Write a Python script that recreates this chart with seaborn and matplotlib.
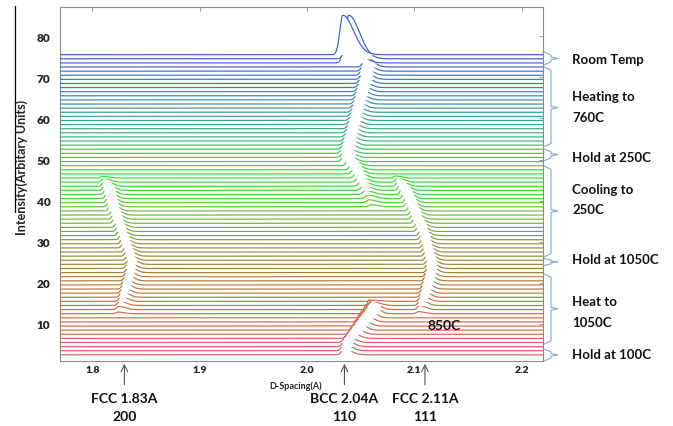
import numpy as np
import pandas as pd
import matplotlib
matplotlib.use("Agg")
import matplotlib.pyplot as plt
import matplotlib.transforms as mtrans
import seaborn as sns
from matplotlib.colors import LinearSegmentedColormap
from matplotlib.lines import Line2D

# ---------------- data ----------------
# one entry per diffraction trace, bottom (first) to top (last); 0 height = no peak
bcc_pos = ([2.035, 2.035, 2.036] +
           [2.037, 2.040, 2.043, 2.046, 2.049, 2.052, 2.055, 2.058, 2.060, 2.061, 2.062, 0, 0, 0, 0, 0, 0] +
           [0, 0, 0] +
           [0] * 13 + [2.060, 2.058, 2.057, 2.055, 2.053, 2.051, 2.049, 2.047, 2.045, 2.043] +
           [2.040] +
           [2.036, 2.036, 2.035, 2.036] +
           [2.037, 2.038, 2.039, 2.040, 2.041, 2.042, 2.043, 2.044, 2.045, 2.046,
            2.047, 2.048, 2.049, 2.050, 2.051, 2.052, 2.053, 2.053, 2.054, 2.055] +
           [2.037, 2.039, 2.0335])
bcc_h = ([1.5, 1.6, 1.7] +
         [1.8, 2.0, 2.3, 2.5, 2.8, 3.0, 3.2, 3.4, 2.2, 1.0, 0.3, 0, 0, 0, 0, 0, 0] +
         [0, 0, 0] +
         [0] * 13 + [0.5, 0.7, 0.9, 1.0, 1.2, 1.4, 1.5, 1.7, 1.9, 2.0] +
         [2.2] +
         [2.4, 2.5, 2.5, 2.4] +
         [2.2, 2.1, 2.0, 2.0, 1.9, 1.9, 1.9, 1.9, 1.9, 1.9,
          2.0, 2.0, 2.0, 2.1, 2.1, 2.2, 2.2, 2.3, 2.4, 2.5] +
         [7.0, 10.6, 9.6])
fcc200_pos = ([0] * 10 +
              [1.824, 1.825, 1.826, 1.827, 1.828, 1.829, 1.830, 1.831, 1.832, 1.833] +
              [1.834, 1.834, 1.835] +
              [1.834, 1.833, 1.832, 1.830, 1.829, 1.828, 1.826, 1.825, 1.824, 1.822, 1.821, 1.820,
               1.818, 1.817, 1.816, 1.815, 1.814, 1.813, 1.812, 1.811, 1.810, 1.809, 1.808] +
              [0] * 28)
fcc200_h = ([0] * 10 +
            [0.4, 0.8, 1.1, 1.3, 1.5, 1.6, 1.7, 1.7, 1.8, 1.8] +
            [1.8, 1.8, 1.8] +
            [1.7, 1.7, 1.7, 1.7, 1.8, 1.8, 1.8, 1.9, 1.9, 2.0, 2.0, 2.1,
             2.2, 2.3, 2.4, 2.5, 2.6, 2.7, 1.8, 1.0, 0.4, 0, 0] +
            [0] * 28)
fcc111_pos = ([0] * 10 +
              [2.104, 2.105, 2.106, 2.107, 2.108, 2.109, 2.110, 2.111, 2.112, 2.113] +
              [2.114, 2.114, 2.114] +
              [2.113, 2.112, 2.111, 2.110, 2.109, 2.108, 2.107, 2.105, 2.104, 2.102, 2.100, 2.099,
               2.097, 2.095, 2.094, 2.092, 2.090, 2.088, 2.086, 2.085, 2.083, 2.082, 2.080] +
              [0] * 28)
fcc111_h = ([0] * 10 +
            [0.5, 1.0, 1.4, 1.7, 1.9, 2.0, 2.1, 2.2, 2.2, 2.2] +
            [2.2, 2.2, 2.2] +
            [2.1, 2.0, 2.0, 2.0, 2.0, 2.1, 2.1, 2.2, 2.2, 2.3, 2.3, 2.4,
             2.4, 2.5, 2.6, 2.7, 2.8, 2.9, 2.0, 1.1, 0.5, 0, 0] +
            [0] * 28)

stage_labels = [["Room Temp"], ["Heating to", "760C"], ["Hold at 250C"], ["Cooling to", "250C"],
                ["Hold at 1050C"], ["Heat to", "1050C"], ["Hold at 100C"]]
stage_top = [76.2, 72.5, 52.6, 48.4, 26.0, 22.2, 3.9]
stage_bot = [73.0, 53.1, 49.7, 26.3, 24.2, 5.1, 1.0]
stage_tip = [74.6, 62.6, 51.2, 37.5, 25.1, 13.7, 2.5]
stage_text_y = [[74.4], [65.5, 60.4], [50.6], [42.8, 38.0], [25.8], [15.6, 10.5], [2.7]]

marker_x = [1.83, 2.035, 2.11]
marker_lines = [["FCC 1.83A", "200"], ["BCC 2.04A", "110"], ["FCC 2.11A", "111"]]
x_ticks = [1.8, 1.9, 2.0, 2.1, 2.2]
y_ticks = [10, 20, 30, 40, 50, 60, 70, 80]

# ---------------- figure ----------------
sns.set_theme(style="white")
plt.rcParams['font.family'] = ['Lato', 'DejaVu Sans']
W, H = 673, 427
fig = plt.figure(figsize=(W / 100, H / 100), dpi=100)
ax = fig.add_axes([60 / W, 1 - 362 / H, 483 / W, 354 / H])

def fx(px):
    return px / W

def fy(py):
    return 1 - py / H

n = len(bcc_pos)
offsets = 2.5 + np.arange(n)
d = np.linspace(1.77, 2.22, 1500)

cmap = LinearSegmentedColormap.from_list("ramp", [
    (0.00, "#e35866"), (0.12, "#d9684e"), (0.24, "#b27a3c"), (0.34, "#8f8c3a"),
    (0.47, "#62c040"), (0.60, "#2ee22e"), (0.70, "#3cbb6c"), (0.80, "#3a9a98"),
    (0.90, "#3d78c0"), (1.00, "#3a5cd2")])

def peak(x, p, h, sl, sr):
    if h <= 0:
        return np.zeros_like(x)
    s = np.where(x < p, sl, sr)
    return h * np.exp(-0.5 * ((x - p) / s) ** 2)

for i in range(n):
    wide = bcc_h[i] > 5
    y = (offsets[i]
         + peak(d, bcc_pos[i], bcc_h[i], 0.0028 if wide else 0.0025,
                0.010 if wide else 0.0065)
         + peak(d, fcc200_pos[i], fcc200_h[i], 0.002, 0.0055)
         + peak(d, fcc111_pos[i], fcc111_h[i], 0.002, 0.0055))
    c = cmap(i / (n - 1))
    ax.fill_between(d, offsets[i], y, color="white", lw=0, zorder=2 * i + 1)
    sns.lineplot(x=d, y=y, color=c, linewidth=0.85, ax=ax, estimator=None,
                 errorbar=None, sort=False)
    ax.lines[-1].set_zorder(2 * i + 2)

ax.set_xlim(1.77, 2.22)
ax.set_ylim(1.0, 87.1)
ax.set_xticks(x_ticks)
ax.set_xticklabels([f"{v:.1f}" for v in x_ticks], fontweight="heavy", fontsize=7.5)
ax.set_yticks(y_ticks)
ax.set_yticklabels([str(v) for v in y_ticks], fontweight="heavy", fontsize=8.5)
ax.tick_params(direction="in", top=True, right=True, length=3, width=0.6,
               color="#888888", labelcolor="#222222")
ax.tick_params(axis="x", pad=3)
ax.tick_params(axis="y", pad=7)
ax.set_xlabel("")
ax.set_ylabel("")
for sp in ax.spines.values():
    sp.set_color("#8a8a8a")
    sp.set_linewidth(0.8)

# axis titles
fig.text(fx(296), fy(386), "D-Spacing(A)", ha="center", va="center",
         fontsize=6.5, fontweight="bold", color="#222222")
fig.text(fx(22), fy(167), "Intensity(Arbitary Units)", ha="center", va="center",
         rotation=90, fontsize=9, fontweight="bold", color="#222222")
fig.add_artist(Line2D([fx(15), fx(15)], [fy(7), fy(213)], transform=fig.transFigure,
                      color="black", lw=0.9))

# peak markers below the axis
bt = mtrans.blended_transform_factory(ax.transData, fig.transFigure)
for xv, lines in zip(marker_x, marker_lines):
    ax.annotate("", xy=(xv, 0.0), xycoords=("data", "axes fraction"),
                xytext=(xv, -0.075), textcoords=("data", "axes fraction"),
                arrowprops=dict(arrowstyle="->", color="#555555", lw=0.8),
                annotation_clip=False)
    ax.text(xv, fy(399), lines[0], transform=bt, ha="center", va="center",
            fontsize=10, fontweight="bold", color="#111111")
    ax.text(xv, fy(417), lines[1], transform=bt, ha="center", va="center",
            fontsize=10, fontweight="bold", color="#111111")

ax.text(2.128, 9.8, "850C", ha="center", va="center", fontsize=10,
        fontweight="bold", color="#111111", zorder=500)

# braces and stage labels on the right
blend = mtrans.blended_transform_factory(fig.transFigure, ax.transData)
bc = "#8fb0d6"
x0, x1, x2 = fx(544), fx(551), fx(558)
for top, bot, tip, labs, tys in zip(stage_top, stage_bot, stage_tip, stage_labels, stage_text_y):
    r = min(0.8, (top - bot) / 4)
    xs = [x0, x1, x1, x2, x1, x1, x0]
    ys = [top, top - r, tip + r * 0.4, tip, tip - r * 0.4, bot + r, bot]
    ax.add_line(Line2D(xs, ys, transform=blend, color=bc, lw=0.9, clip_on=False))
    for lab, ty in zip(labs, tys):
        ax.text(fx(572), ty, lab, transform=blend, ha="left", va="center",
                fontsize=9.5, fontweight="bold", color="#111111")

fig.savefig("out.png", dpi=100)
